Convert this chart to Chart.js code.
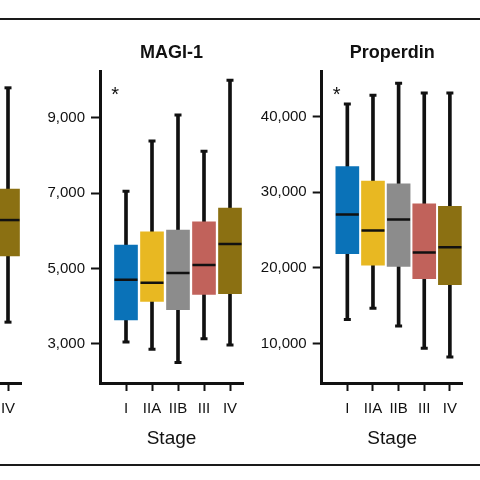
<!DOCTYPE html>
<html>
<head>
<meta charset="utf-8">
<script src="https://cdn.jsdelivr.net/npm/chart.js@4.4.1/dist/chart.umd.min.js"></script>
<style>
  html, body { margin: 0; padding: 0; background: #fff; }
  #page { position: relative; width: 480px; height: 480px; overflow: hidden; background: #fff; }
  .rule { position: absolute; left: 0; width: 480px; height: 2px; background: #1a1a1a; }
  .panel { position: absolute; top: 0; width: 250px; height: 480px; }
</style>
</head>
<body>
<div id="page">
  <div class="rule" style="top:18px"></div>
  <div class="rule" style="top:464px"></div>
  <div class="panel" style="left:-222px"><canvas id="chart-left"></canvas></div>
  <div class="panel" style="left:0px"><canvas id="chart-magi"></canvas></div>
  <div class="panel" style="left:230px"><canvas id="chart-properdin"></canvas></div>
</div>
<script>
"use strict";

// ── Data ───────────────────────────────────────────────────────────────────
const STAGES = ["I", "IIA", "IIB", "III", "IV"];
const BOX_COLORS = ["#0a72b8", "#e8b822", "#8c8c8c", "#c1625b", "#8b7012"];

// MAGI-1
const MAGI_MIN = [3050, 2860, 2510, 3140, 2970];
const MAGI_Q1  = [3640, 4130, 3910, 4310, 4330];
const MAGI_MED = [4700, 4620, 4880, 5090, 5650];
const MAGI_Q3  = [5620, 5970, 6020, 6240, 6600];
const MAGI_MAX = [7050, 8380, 9070, 8110, 9990];
const MAGI_TICKS = [3000, 5000, 7000, 9000];

// Properdin
const PROP_MIN = [13180, 14680, 12340, 9390, 8240];
const PROP_Q1  = [21880, 20370, 20190, 18600, 17810];
const PROP_MED = [27080, 24960, 26410, 22040, 22750];
const PROP_Q3  = [33390, 31490, 31130, 28480, 28130];
const PROP_MAX = [41680, 42820, 44410, 43130, 43130];
const PROP_TICKS = [10000, 20000, 30000, 40000];

// Preceding panel, cut off at the left edge: only stage IV is in view
const LEFT_MIN = [null, null, null, null, 3580];
const LEFT_Q1  = [null, null, null, null, 5340];
const LEFT_MED = [null, null, null, null, 6290];
const LEFT_Q3  = [null, null, null, null, 7115];
const LEFT_MAX = [null, null, null, null, 9800];

const FONT = "'Liberation Sans', Arial, Helvetica, sans-serif";
const INK = "#111111";
const MARK_X = 0.58; // where the "*" sits on the stage axis

Chart.defaults.font.family = FONT;
Chart.defaults.color = INK;

// ── Significance mark ("*") ────────────────────────────────────────────────
const sigMarkPlugin = {
  id: "sigMark",
  afterDatasetsDraw(chart, args, opts) {
    if (!opts.text) return;
    const { ctx, chartArea, scales } = chart;
    ctx.save();
    ctx.font = `20px ${FONT}`;
    ctx.fillStyle = INK;
    ctx.textAlign = "center";
    ctx.textBaseline = "alphabetic";
    ctx.fillText(opts.text, scales.x.getPixelForValue(MARK_X), chartArea.top + 29);
    ctx.restore();
  },
};

// ── Box plot built from floating bars and line-style points ───────────────
function boxDatasets(mins, q1, med, q3, maxs) {
  const pts = arr => arr.map((v, i) => ({ x: i + 1, y: v })).filter(d => d.y != null);
  const span = (lo, hi) => lo.map((v, i) => ({ x: i + 1, y: [v, hi[i]] })).filter(d => d.y[0] != null);
  return [
    { // whiskers
      type: "bar", data: span(mins, maxs), backgroundColor: INK,
      barThickness: 3, grouped: false, order: 4,
    },
    { // whisker caps
      type: "line", data: [...pts(mins), ...pts(maxs)], showLine: false,
      pointStyle: "line", pointRadius: 3.5, pointBorderWidth: 3,
      pointBorderColor: INK, order: 3,
    },
    { // boxes
      type: "bar", data: span(q1, q3),
      backgroundColor: c => BOX_COLORS[c.raw.x - 1],
      barThickness: 23, grouped: false, order: 2,
    },
    { // medians
      type: "line", data: pts(med), showLine: false,
      pointStyle: "line", pointRadius: 11.5, pointBorderWidth: 2.5,
      pointBorderColor: INK, order: 1,
    },
  ];
}

function panelOptions(p) {
  return {
    responsive: true,
    maintainAspectRatio: false,
    animation: false,
    events: [],
    layout: {
      autoPadding: false,
      padding: { left: 0, right: p.padRight, top: p.title ? 0 : 72, bottom: 0 },
    },
    plugins: {
      legend: { display: false },
      tooltip: { enabled: false },
      title: {
        display: !!p.title, text: p.title, fullSize: false, color: INK,
        font: { size: 18, weight: "bold", family: FONT },
        padding: { top: 42, bottom: 8 },
      },
      sigMark: { text: p.mark },
    },
    scales: {
      x: {
        type: "linear", min: 0, max: 5.5, offset: false,
        afterBuildTicks: s => { s.ticks = STAGES.map((_, i) => ({ value: i + 1 })); },
        afterFit: s => { s.height = 97; s.paddingLeft = 0; s.paddingRight = 0; },
        ticks: {
          callback: v => STAGES[v - 1] ?? "",
          font: { size: 15, family: FONT }, color: INK,
          padding: 9, maxRotation: 0, autoSkip: false,
        },
        grid: {
          drawOnChartArea: false, drawTicks: true, tickLength: 8,
          tickWidth: 2, tickColor: INK, color: INK, offset: false,
        },
        border: { display: true, width: 3, color: INK },
        title: {
          display: p.xTitle, text: "Stage", color: INK,
          font: { size: 19, family: FONT }, padding: { top: 0, bottom: 30 },
        },
      },
      y: {
        type: "linear", min: p.yMin, max: p.yMax,
        afterBuildTicks: s => { s.ticks = p.yTicks.map(v => ({ value: v })); },
        afterFit: s => { s.width = p.yWidth; s.paddingTop = 0; s.paddingBottom = 0; },
        ticks: {
          callback: v => v.toLocaleString("en-US"),
          font: { size: 15, family: FONT }, color: INK, padding: 6,
        },
        grid: {
          drawOnChartArea: false, drawTicks: true, tickLength: 9,
          tickWidth: 2, tickColor: INK, color: INK,
        },
        border: { display: true, width: 3, color: INK },
      },
    },
  };
}

function drawPanel(canvasId, series, p) {
  const ctx = document.getElementById(canvasId).getContext("2d");
  return new Chart(ctx, {
    type: "bar",
    data: { datasets: boxDatasets(...series) },
    options: panelOptions(p),
    plugins: [sigMarkPlugin],
  });
}

drawPanel("chart-left", [LEFT_MIN, LEFT_Q1, LEFT_MED, LEFT_Q3, LEFT_MAX], {
  title: "", mark: "", xTitle: false, yMin: 1965, yMax: 10220, yTicks: [],
  yWidth: 100, padRight: 7,
});

drawPanel("chart-magi", [MAGI_MIN, MAGI_Q1, MAGI_MED, MAGI_Q3, MAGI_MAX], {
  title: "MAGI-1", mark: "*", xTitle: true, yMin: 1965, yMax: 10220,
  yTicks: MAGI_TICKS, yWidth: 100, padRight: 7,
});

drawPanel("chart-properdin", [PROP_MIN, PROP_Q1, PROP_MED, PROP_Q3, PROP_MAX], {
  title: "Properdin", mark: "*", xTitle: true, yMin: 4800, yMax: 45950,
  yTicks: PROP_TICKS, yWidth: 91.7, padRight: 17.3,
});
</script>
</body>
</html>
